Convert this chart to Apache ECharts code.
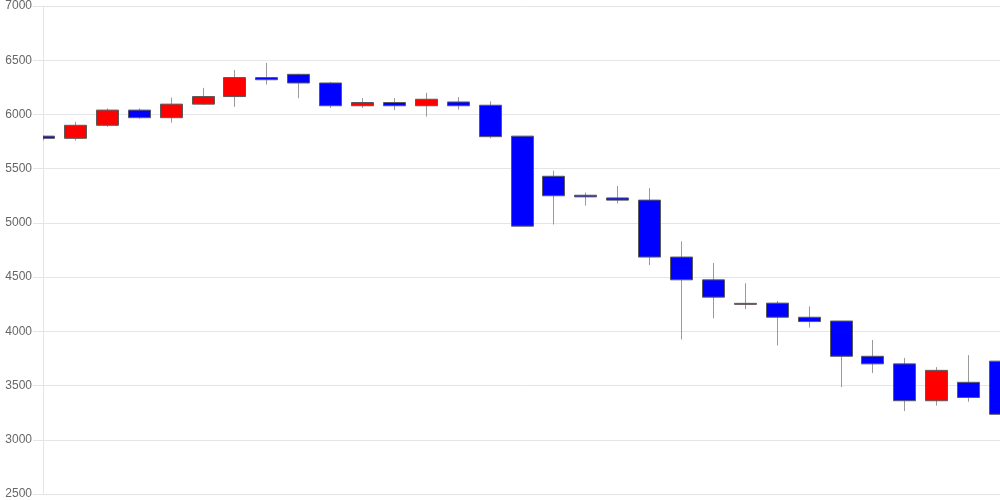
<!DOCTYPE html>
<html>
<head>
<meta charset="utf-8">
<script src="https://cdn.jsdelivr.net/npm/echarts@6/dist/echarts.min.js"></script>
<style>html,body{margin:0;padding:0;background:#fff;}#c{width:1000px;height:500px;}</style>
</head>
<body>
<div id="c"></div>
<script>
const categories = ['1','2','3','4','5','6','7','8','9','10','11','12','13','14','15','16','17','18','19','20','21','22','23','24','25','26','27','28','29','30','31'];
const openValues  = [5800,5780,5900,6040,5970,6095,6165,6340,6370,6290,6080,6110,6080,6115,6085,5800,5430,5255,5230,5210,4685,4475,4254,4260,4130,4095,3770,3700,3360,3530,3725];
const closeValues = [5780,5900,6040,5970,6095,6165,6340,6320,6290,6080,6110,6080,6140,6080,5795,4970,5250,5240,5210,4685,4475,4315,4258,4130,4090,3770,3700,3360,3640,3390,3235];
const lowValues   = [5760,5760,5885,5960,5925,6090,6070,6275,6150,6060,6060,6040,5980,6045,5780,4970,4985,5160,5180,4610,3925,4120,4203,3870,4035,3485,3615,3265,3315,3350,3165];
const highValues  = [5805,5930,6055,6055,6155,6245,6410,6475,6375,6300,6150,6150,6200,6160,6120,5800,5480,5280,5340,5320,4830,4630,4443,4280,4230,4095,3920,3755,3670,3780,3725];
const yTicks = {min: 2500, max: 7000, interval: 500};

const data = categories.map((c, i) => [i, openValues[i], closeValues[i], lowValues[i], highValues[i]]);

const UP = '#ff0000', DOWN = '#0000ff', BORDER = '#5a5a5a', WICK = '#9a9a9a';

function renderItem(params, api) {
  const x = api.value(0);
  const o = api.value(1), c = api.value(2), l = api.value(3), h = api.value(4);
  const pO = api.coord([x, o]);
  const pC = api.coord([x, c]);
  const pL = api.coord([x, l]);
  const pH = api.coord([x, h]);
  const bw = 22;
  const cx = Math.round(pO[0]) + 0.5;
  const top = Math.min(pO[1], pC[1]);
  const bot = Math.max(pO[1], pC[1]);
  const up = c > o;
  return {
    type: 'group',
    children: [
      {
        type: 'line',
        shape: {x1: cx, y1: pH[1], x2: cx, y2: pL[1]},
        style: {stroke: WICK, lineWidth: 1}
      },
      {
        type: 'rect',
        shape: {x: cx - bw / 2, y: top, width: bw, height: Math.max(bot - top, 1)},
        style: {fill: up ? UP : DOWN, stroke: BORDER, lineWidth: 1}
      }
    ]
  };
}

const chart = echarts.init(document.getElementById('c'), null, {renderer: 'canvas'});
chart.setOption({
  animation: false,
  backgroundColor: '#ffffff',
  grid: {left: 43, right: 0, top: 6, bottom: 6, containLabel: false},
  xAxis: {
    type: 'category',
    data: categories,
    boundaryGap: false,
    axisLine: {show: true, lineStyle: {color: '#e5e5e5'}},
    axisTick: {show: false},
    axisLabel: {show: false},
    splitLine: {show: false}
  },
  yAxis: {
    type: 'value',
    min: yTicks.min,
    max: yTicks.max,
    interval: yTicks.interval,
    axisLine: {show: true, lineStyle: {color: '#e5e5e5'}},
    axisTick: {show: true, length: 10, lineStyle: {color: '#e5e5e5'}},
    axisLabel: {color: '#666', fontSize: 12, fontFamily: 'Liberation Sans, Arial, sans-serif', margin: 11,
      formatter: v => String(v)},
    splitLine: {show: true, lineStyle: {color: '#e5e5e5', width: 1}}
  },
  series: [{
    type: 'custom',
    renderItem: renderItem,
    clip: true,
    encode: {x: 0, y: [1, 2, 3, 4]},
    data: data
  }]
});
</script>
</body>
</html>
